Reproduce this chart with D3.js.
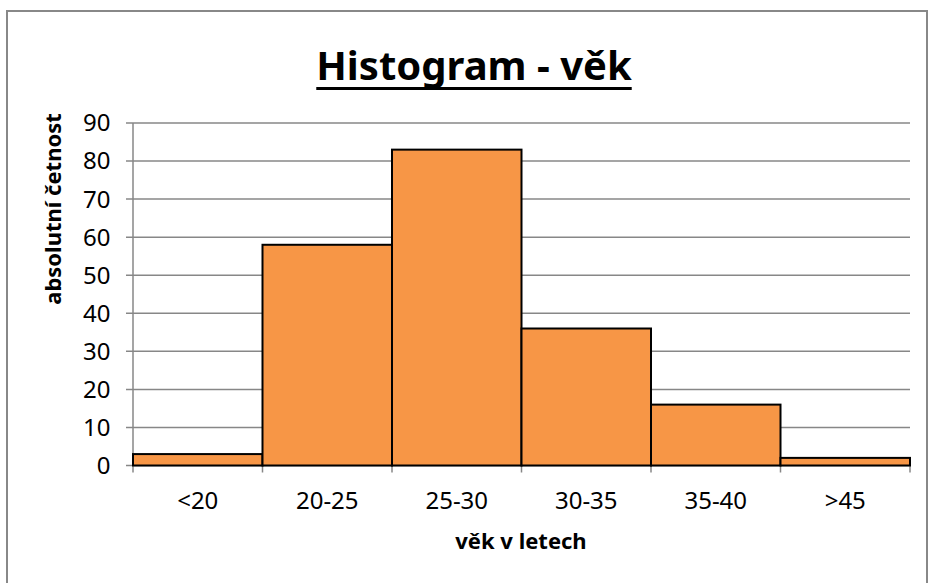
<!DOCTYPE html>
<html>
<head>
<meta charset="utf-8">
<script src="https://cdn.jsdelivr.net/npm/d3@7"></script>
<style>
  body { margin: 0; background: #fff; }
  svg { display: block; font-family: "Noto Sans", "Open Sans", sans-serif; }
</style>
</head>
<body>
<script>
const categories = ["<20", "20-25", "25-30", "30-35", "35-40", ">45"];
const counts = [3, 58, 83, 36, 16, 2];
const yTicks = [0, 10, 20, 30, 40, 50, 60, 70, 80, 90];

const width = 928, height = 583;
const m = {left: 133, right: 18, top: 123, bottom: 117.5};

const svg = d3.select("body").append("svg")
    .attr("width", width)
    .attr("height", height);

// outer frame
svg.append("rect")
    .attr("x", 7).attr("y", 11)
    .attr("width", 920).attr("height", 580)
    .attr("fill", "none")
    .attr("stroke", "#888")
    .attr("stroke-width", 2);

const x = d3.scaleBand()
    .domain(categories)
    .range([m.left, width - m.right])
    .padding(0);

const y = d3.scaleLinear()
    .domain([0, 90])
    .range([height - m.bottom, m.top]);

// gridlines
svg.append("g").selectAll("line").data(yTicks)
    .enter().append("line")
        .attr("x1", m.left - 7)
        .attr("x2", width - m.right)
        .attr("y1", d => y(d))
        .attr("y2", d => y(d))
        .attr("stroke", "#878787")
        .attr("stroke-width", 1.5);

// y axis line
svg.append("line")
    .attr("x1", m.left).attr("x2", m.left)
    .attr("y1", y(90)).attr("y2", y(0))
    .attr("stroke", "#878787")
    .attr("stroke-width", 1.5);

// x tick marks at band edges
const edges = categories.map(c => x(c)).concat([x(categories[categories.length - 1]) + x.bandwidth()]);
svg.append("g").selectAll("line").data(edges)
    .enter().append("line")
        .attr("x1", d => d).attr("x2", d => d)
        .attr("y1", y(0)).attr("y2", y(0) + 7)
        .attr("stroke", "#878787")
        .attr("stroke-width", 1.5);

// bars
svg.append("g").selectAll("rect").data(counts)
    .enter().append("rect")
        .attr("x", (d, i) => x(categories[i]))
        .attr("y", d => y(d))
        .attr("width", x.bandwidth())
        .attr("height", d => y(0) - y(d))
        .attr("fill", "#F79646")
        .attr("stroke", "#000")
        .attr("stroke-width", 2);

// y tick labels
svg.append("g").selectAll("text").data(yTicks)
    .enter().append("text")
        .attr("x", 110.5)
        .attr("y", d => y(d))
        .attr("dy", "0.35em")
        .attr("text-anchor", "end")
        .attr("font-size", 24)
        .attr("fill", "#000")
        .text(d => d);

// x tick labels
svg.append("g").selectAll("text").data(categories)
    .enter().append("text")
        .attr("x", d => x(d) + x.bandwidth() / 2)
        .attr("y", 509)
        .attr("text-anchor", "middle")
        .attr("font-size", 24)
        .attr("fill", "#000")
        .text(d => d);

// title with drawn underline
const title = svg.append("text")
    .attr("x", 474)
    .attr("y", 80)
    .attr("text-anchor", "middle")
    .attr("font-size", 40)
    .attr("font-weight", "bold")
    .text("Histogram - věk");
const tw = title.node().getComputedTextLength();
svg.append("line")
    .attr("x1", 474 - tw / 2).attr("x2", 474 + tw / 2)
    .attr("y1", 88.5).attr("y2", 88.5)
    .attr("stroke", "#000")
    .attr("stroke-width", 3);

// axis titles
svg.append("text")
    .attr("x", 521)
    .attr("y", 549)
    .attr("text-anchor", "middle")
    .attr("font-size", 22)
    .attr("font-weight", "bold")
    .text("věk v letech");

svg.append("text")
    .attr("transform", "translate(61,209) rotate(-90)")
    .attr("text-anchor", "middle")
    .attr("font-size", 22)
    .attr("font-weight", "bold")
    .text("absolutní četnost");
</script>
</body>
</html>
